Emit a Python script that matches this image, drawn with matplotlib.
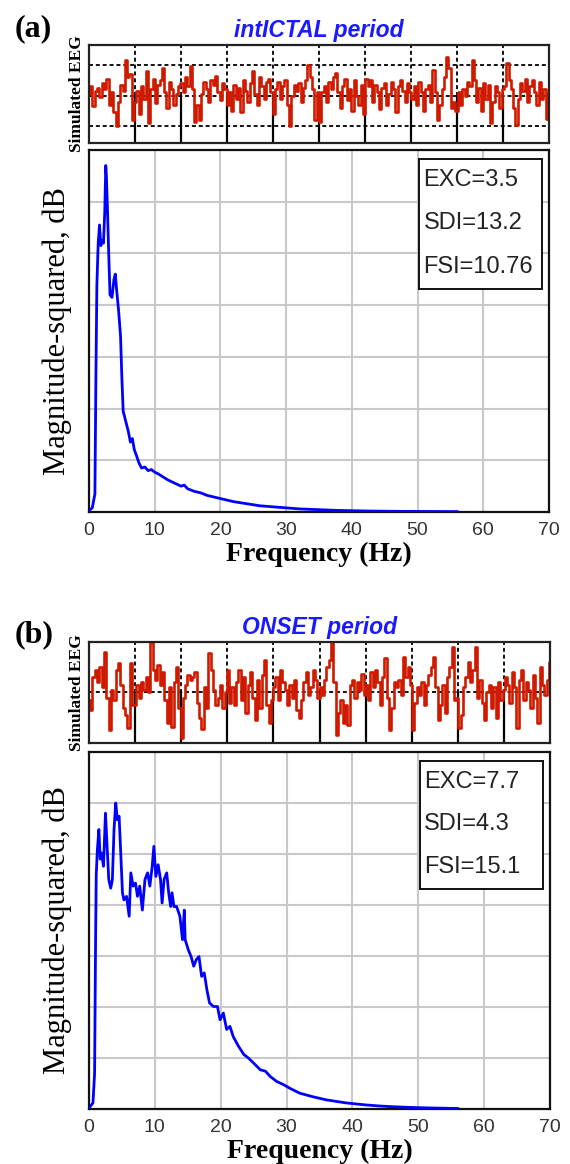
import numpy as np
import matplotlib
matplotlib.use("Agg")
import matplotlib.pyplot as plt
from matplotlib.patches import Rectangle

# spectra, values in grid units (7 grid steps full scale)
freq_a = [0, 0.5, 0.9, 1.05, 1.2, 1.4, 1.6, 1.8, 2.0, 2.2,
          2.4, 2.55, 2.65, 2.8, 3.0, 3.2, 3.5, 3.8, 4.0, 4.2,
          4.5, 4.8, 5.0, 5.2, 5.4, 5.7, 6.0, 6.3, 6.6, 6.9,
          7.2, 7.6, 8.0, 8.5, 9.0, 9.5, 10, 10.5, 11, 11.5,
          12, 13, 14, 14.5, 15, 16, 17, 18, 19, 20,
          21, 22, 23, 24, 25, 26, 27, 28, 30, 32,
          34, 36, 38, 40, 42, 45, 48, 52, 56]
mag_a = [0.03, 0.08, 0.35, 2.6, 4.4, 5.2, 5.55, 5.15, 5.25, 5.2,
         5.8, 6.7, 6.5, 5.9, 5.0, 4.2, 4.15, 4.5, 4.6, 4.3,
         3.9, 3.4, 2.6, 1.95, 1.85, 1.7, 1.55, 1.35, 1.42, 1.2,
         1.1, 0.95, 0.85, 0.87, 0.8, 0.82, 0.77, 0.74, 0.7, 0.66,
         0.62, 0.56, 0.5, 0.52, 0.45, 0.4, 0.37, 0.32, 0.29, 0.26,
         0.23, 0.2, 0.18, 0.16, 0.14, 0.12, 0.11, 0.1, 0.08, 0.06,
         0.05, 0.04, 0.03, 0.025, 0.02, 0.015, 0.012, 0.01, 0.008]

freq_b = [0, 0.6, 0.85, 1.0, 1.1, 1.27, 1.5, 1.7, 1.9, 2.2,
          2.5, 2.7, 3.0, 3.3, 3.55, 3.8, 4.06, 4.3, 4.57, 4.8,
          5.08, 5.3, 5.7, 6.1, 6.35, 6.7, 7.06, 7.36, 7.7, 8.1,
          8.5, 8.9, 9.24, 9.6, 9.85, 10.15, 10.5, 10.86, 11.1, 11.4,
          11.8, 12.1, 12.4, 12.6, 12.9, 13.3, 13.8, 14.2, 14.47, 14.6,
          15.08, 15.5, 15.9, 16.3, 16.7, 17.1, 17.5, 17.9, 18.3, 18.9,
          19.5, 19.9, 20.4, 20.9, 21.4, 21.9, 22.7, 23.5, 24.2, 25,
          26, 26.8, 27.5, 28.5, 29.5, 30.6, 32, 34, 36, 39,
          42, 44, 46, 49, 52, 56]
mag_b = [0.02, 0.12, 0.7, 3.3, 4.6, 5.08, 5.48, 4.9, 5.02, 4.76,
         5.8, 5.28, 4.5, 4.33, 4.5, 5.48, 6.0, 5.67, 5.74, 5.08,
         4.24, 4.1, 4.17, 3.78, 4.63, 4.37, 4.43, 4.17, 4.37, 3.9,
         4.5, 4.63, 4.37, 4.76, 5.15, 4.56, 4.79, 4.5, 4.04, 4.5,
         4.63, 4.24, 3.97, 4.24, 3.97, 3.97, 3.78, 3.32, 3.9, 3.32,
         3.12, 2.99, 2.8, 2.93, 2.99, 2.6, 2.67, 2.34, 2.08, 2.01,
         2.01, 1.75, 1.88, 1.56, 1.62, 1.42, 1.23, 1.07, 1.0, 0.9,
         0.77, 0.74, 0.64, 0.54, 0.48, 0.4, 0.31, 0.24, 0.18, 0.12,
         0.08, 0.06, 0.045, 0.03, 0.02, 0.01]

# simulated EEG traces, 20 samples per grid division
eeg_a = [0.05, 0.3, -0.35, 0.15, 0.25, -0.05, 0.4, 0.2, 0.55, -0.3, 0.1, -0.55, -1.0, -0.2, 0.35, 0.15, 1.15, 0.6, 0.7, -0.8,
         -0.2, 0.15, -0.6, 0.3, -0.1, 0.8, -0.9, 0.2, 0.55, -0.25, 0.35, 0.5, 0.9, 0.1, -0.4, 0.45, 0.2, -0.3, 0.05, 0.3,
         0.4, 0.1, 0.6, 0.3, 0.95, 0.2, -0.85, -0.3, -0.8, 0.05, 0.45, 0.2, -0.2, 0.5, 0.35, 0.65, 0.1, -0.15, 0.4, 0.2,
         -0.3, 0.1, -0.5, 0.35, -0.1, 0.25, -0.55, 0.5, 0.15, -0.2, 0.4, 0.8, 0.05, -0.3, 0.6, 0.3, -0.1, 0.45, 0.55, 0.1,
         -0.6, 0.2, 0.45, -0.1, 0.3, 0.5, -0.3, -1.0, 0.0, 0.35, 0.15, 0.4, -0.2, 0.25, 0.5, 1.0, 0.6, 0.2, -0.8, 0.1,
         -0.85, 0.1, 0.3, -0.2, 0.45, 0.2, 0.6, 0.75, 0.1, -0.4, 0.3, 0.55, -0.15, 0.2, -0.5, 0.5, 0.0, -0.3, 0.35, -0.6,
         0.55, 0.3, 0.5, -0.2, 0.35, 0.1, -0.45, 0.25, 0.4, -0.3, 0.05, 0.45, 0.2, -0.55, 0.3, 0.5, 0.15, -0.2, 0.4, 0.1,
         -0.1, 0.3, -0.3, 0.45, 0.1, -0.5, 0.2, 0.35, -0.2, 0.85, 0.1, -0.8, -0.3, 0.2, 0.6, 1.25, 0.9, -0.4, -0.2, -0.5,
         0.1, -0.3, 0.2, 0.0, 0.45, 0.3, 1.15, 0.5, -0.2, 0.25, -0.5, 0.4, -0.1, 0.35, -0.9, -0.2, 0.3, 0.1, -0.4, 0.2,
         0.3, 1.05, 0.5, 0.2, -0.4, -0.95, -0.1, 0.4, 0.15, 0.55, -0.2, 0.3, 0.5, 0.1, -0.3, 0.45, -0.1, 0.2, -0.75, 0.05]
eeg_b = [-0.3, -0.7, 0.6, 0.9, 0.4, 1.0, 0.2, 1.6, -0.2, -1.5, 0.1, -0.3, 0.9, 1.15, 0.3, -0.6, -0.9, -1.4, 1.15, -0.5,
         -0.5, 0.3, -0.2, 0.4, 0.1, 0.6, 0.0, 2.0, 0.9, 0.5, 1.1, 0.3, 0.8, -0.3, -1.2, 0.2, -1.35, 0.4, 1.0, -0.6,
         -1.8, -0.2, 0.3, 0.7, 0.5, 0.6, 0.8, -0.4, -1.0, -1.45, 0.2, -0.6, 1.55, 0.9, 0.1, -0.5, -0.2, 0.3, -0.6, 0.0,
         0.9, -0.4, 0.2, -0.5, 0.4, 0.9, -0.3, 0.6, -0.8, 0.3, 0.8, -0.2, -1.1, 0.5, -0.6, 0.7, 1.3, -0.5, -1.2, -0.3,
         0.2, 0.6, -0.3, 0.9, 0.4, 0.1, -0.5, 0.3, -0.2, 0.5, -0.7, -1.0, -0.3, 0.4, 0.8, -0.1, 0.2, 0.9, 0.5, -0.2,
         0.2, -0.1, 0.5, 1.0, 1.3, 2.0, 0.4, -1.7, -0.8, -0.3, -1.2, -0.5, -1.3, 0.3, 0.5, -0.2, 0.4, 0.1, 0.75, -0.1,
         0.3, -0.3, 0.8, 0.2, 0.9, 0.4, -0.5, 0.6, 1.35, -0.2, -1.5, -0.6, 0.4, 0.2, 0.5, -0.1, 1.4, 0.6, 1.0, 0.3,
         -1.5, -0.4, 0.2, -0.1, 0.4, -0.5, 0.3, 0.7, 1.0, 1.4, 0.2, -1.1, -0.5, 0.3, -0.8, 0.6, 1.0, 1.8, -0.3, -0.2,
         -1.4, -0.9, 0.2, 0.6, 1.2, 0.4, 0.9, 1.8, -0.2, 0.5, -0.4, -1.1, 0.0, 0.3, -0.6, 0.2, -1.0, 0.4, -0.3, 0.1,
         0.6, 0.3, -0.4, 0.8, 0.2, -1.4, 0.5, 0.9, -0.3, 0.4, 0.1, -0.6, 0.7, -0.2, -1.2, 1.0, 0.3, -0.1, 0.5, 1.2]

titles = ["intICTAL period", "ONSET period"]
tags = ["(a)", "(b)"]
stats = [["EXC=3.5", "SDI=13.2", "FSI=10.76"],
         ["EXC=7.7", "SDI=4.3", "FSI=15.1"]]
xticks = [0, 10, 20, 30, 40, 50, 60, 70]

W, H = 570, 1164
fig = plt.figure(figsize=(W / 100, H / 100), dpi=100)

def frac(x0, y0, x1, y1):
    return [x0 / W, 1 - y1 / H, (x1 - x0) / W, (y1 - y0) / H]

panels = [
    dict(eeg=eeg_a, ylim=(-1.55, 1.65), hl=[-1, 0, 1], freq=freq_a, mag=mag_a,
         eeg_box=(89, 45, 549, 143), spec_box=(89, 150, 549, 512)),
    dict(eeg=eeg_b, ylim=(-2, 2), hl=[0], freq=freq_b, mag=mag_b,
         eeg_box=(89, 642, 550, 743), spec_box=(89, 752, 550, 1109)),
]

serif = "Liberation Serif"
sans = "Liberation Sans"

for i, p in enumerate(panels):
    # EEG strip
    ax = fig.add_axes(frac(*p["eeg_box"]))
    t = np.linspace(0, 10, len(p["eeg"]))
    lo, hi = p["ylim"]
    mid = (0 - lo) / (hi - lo)
    for k in range(1, 10):
        ax.axvline(k, ymin=0, ymax=mid, color="k", lw=1.6, zorder=1)
        ax.axvline(k, ymin=mid, ymax=1, color="k", lw=1.3, ls=(0, (2.2, 1.6)), zorder=1)
    for v in p["hl"]:
        ax.axhline(v, color="k", lw=1.3, ls=(0, (2.2, 1.6)), zorder=1)
    ax.plot(t, p["eeg"], color="#d01a00", lw=1.9, drawstyle="steps-mid", zorder=2)
    ax.set_xlim(0, 10)
    ax.set_ylim(lo, hi)
    ax.set_xticks([])
    ax.set_yticks([])
    for s in ax.spines.values():
        s.set_linewidth(1.6)
        s.set_color("#222222")
    ax.set_ylabel("Simulated EEG", family=serif, weight="bold", fontsize=12.5, labelpad=3)
    ax.set_title(titles[i], color="#1a1aff", family=sans, weight="bold", style="italic",
                 fontsize=16.5, pad=6)
    fig.text(15 / W, 1 - (29 + i * 606) / H, tags[i], family=serif, weight="bold",
             fontsize=23, va="center", ha="left")

    # spectrum
    ax2 = fig.add_axes(frac(*p["spec_box"]))
    ax2.plot(p["freq"], p["mag"], color="#0000ff", lw=2.0, zorder=3)
    ax2.set_xlim(0, 70)
    ax2.set_ylim(0, 7)
    ax2.set_xticks(xticks)
    ax2.set_yticks(range(1, 7))
    ax2.set_yticklabels([])
    ax2.grid(True, color="#c8c8c8", lw=1.5, zorder=0)
    ax2.set_axisbelow(True)
    ax2.tick_params(length=0, pad=7, labelsize=14, labelcolor="#333333")
    for lab in ax2.get_xticklabels():
        lab.set_family(sans)
    for s in ax2.spines.values():
        s.set_linewidth(1.6)
        s.set_color("#111111")
    ax2.set_xlabel("Frequency (Hz)", family=serif, weight="bold", fontsize=20, labelpad=2)
    ax2.set_ylabel("Magnitude-squared, dB", family=serif, fontsize=22, labelpad=5)

    ax2.add_patch(Rectangle((0.717, 0.617), 0.268, 0.358, transform=ax2.transAxes,
                            facecolor="white", edgecolor="#111111", lw=1.4, zorder=4))
    for j, s in enumerate(stats[i]):
        ax2.text(0.727, [0.917, 0.797, 0.678][j], s, transform=ax2.transAxes,
                 family=sans, fontsize=17, color="#222222", va="center", ha="left", zorder=5)

fig.savefig("out.png", dpi=100)
